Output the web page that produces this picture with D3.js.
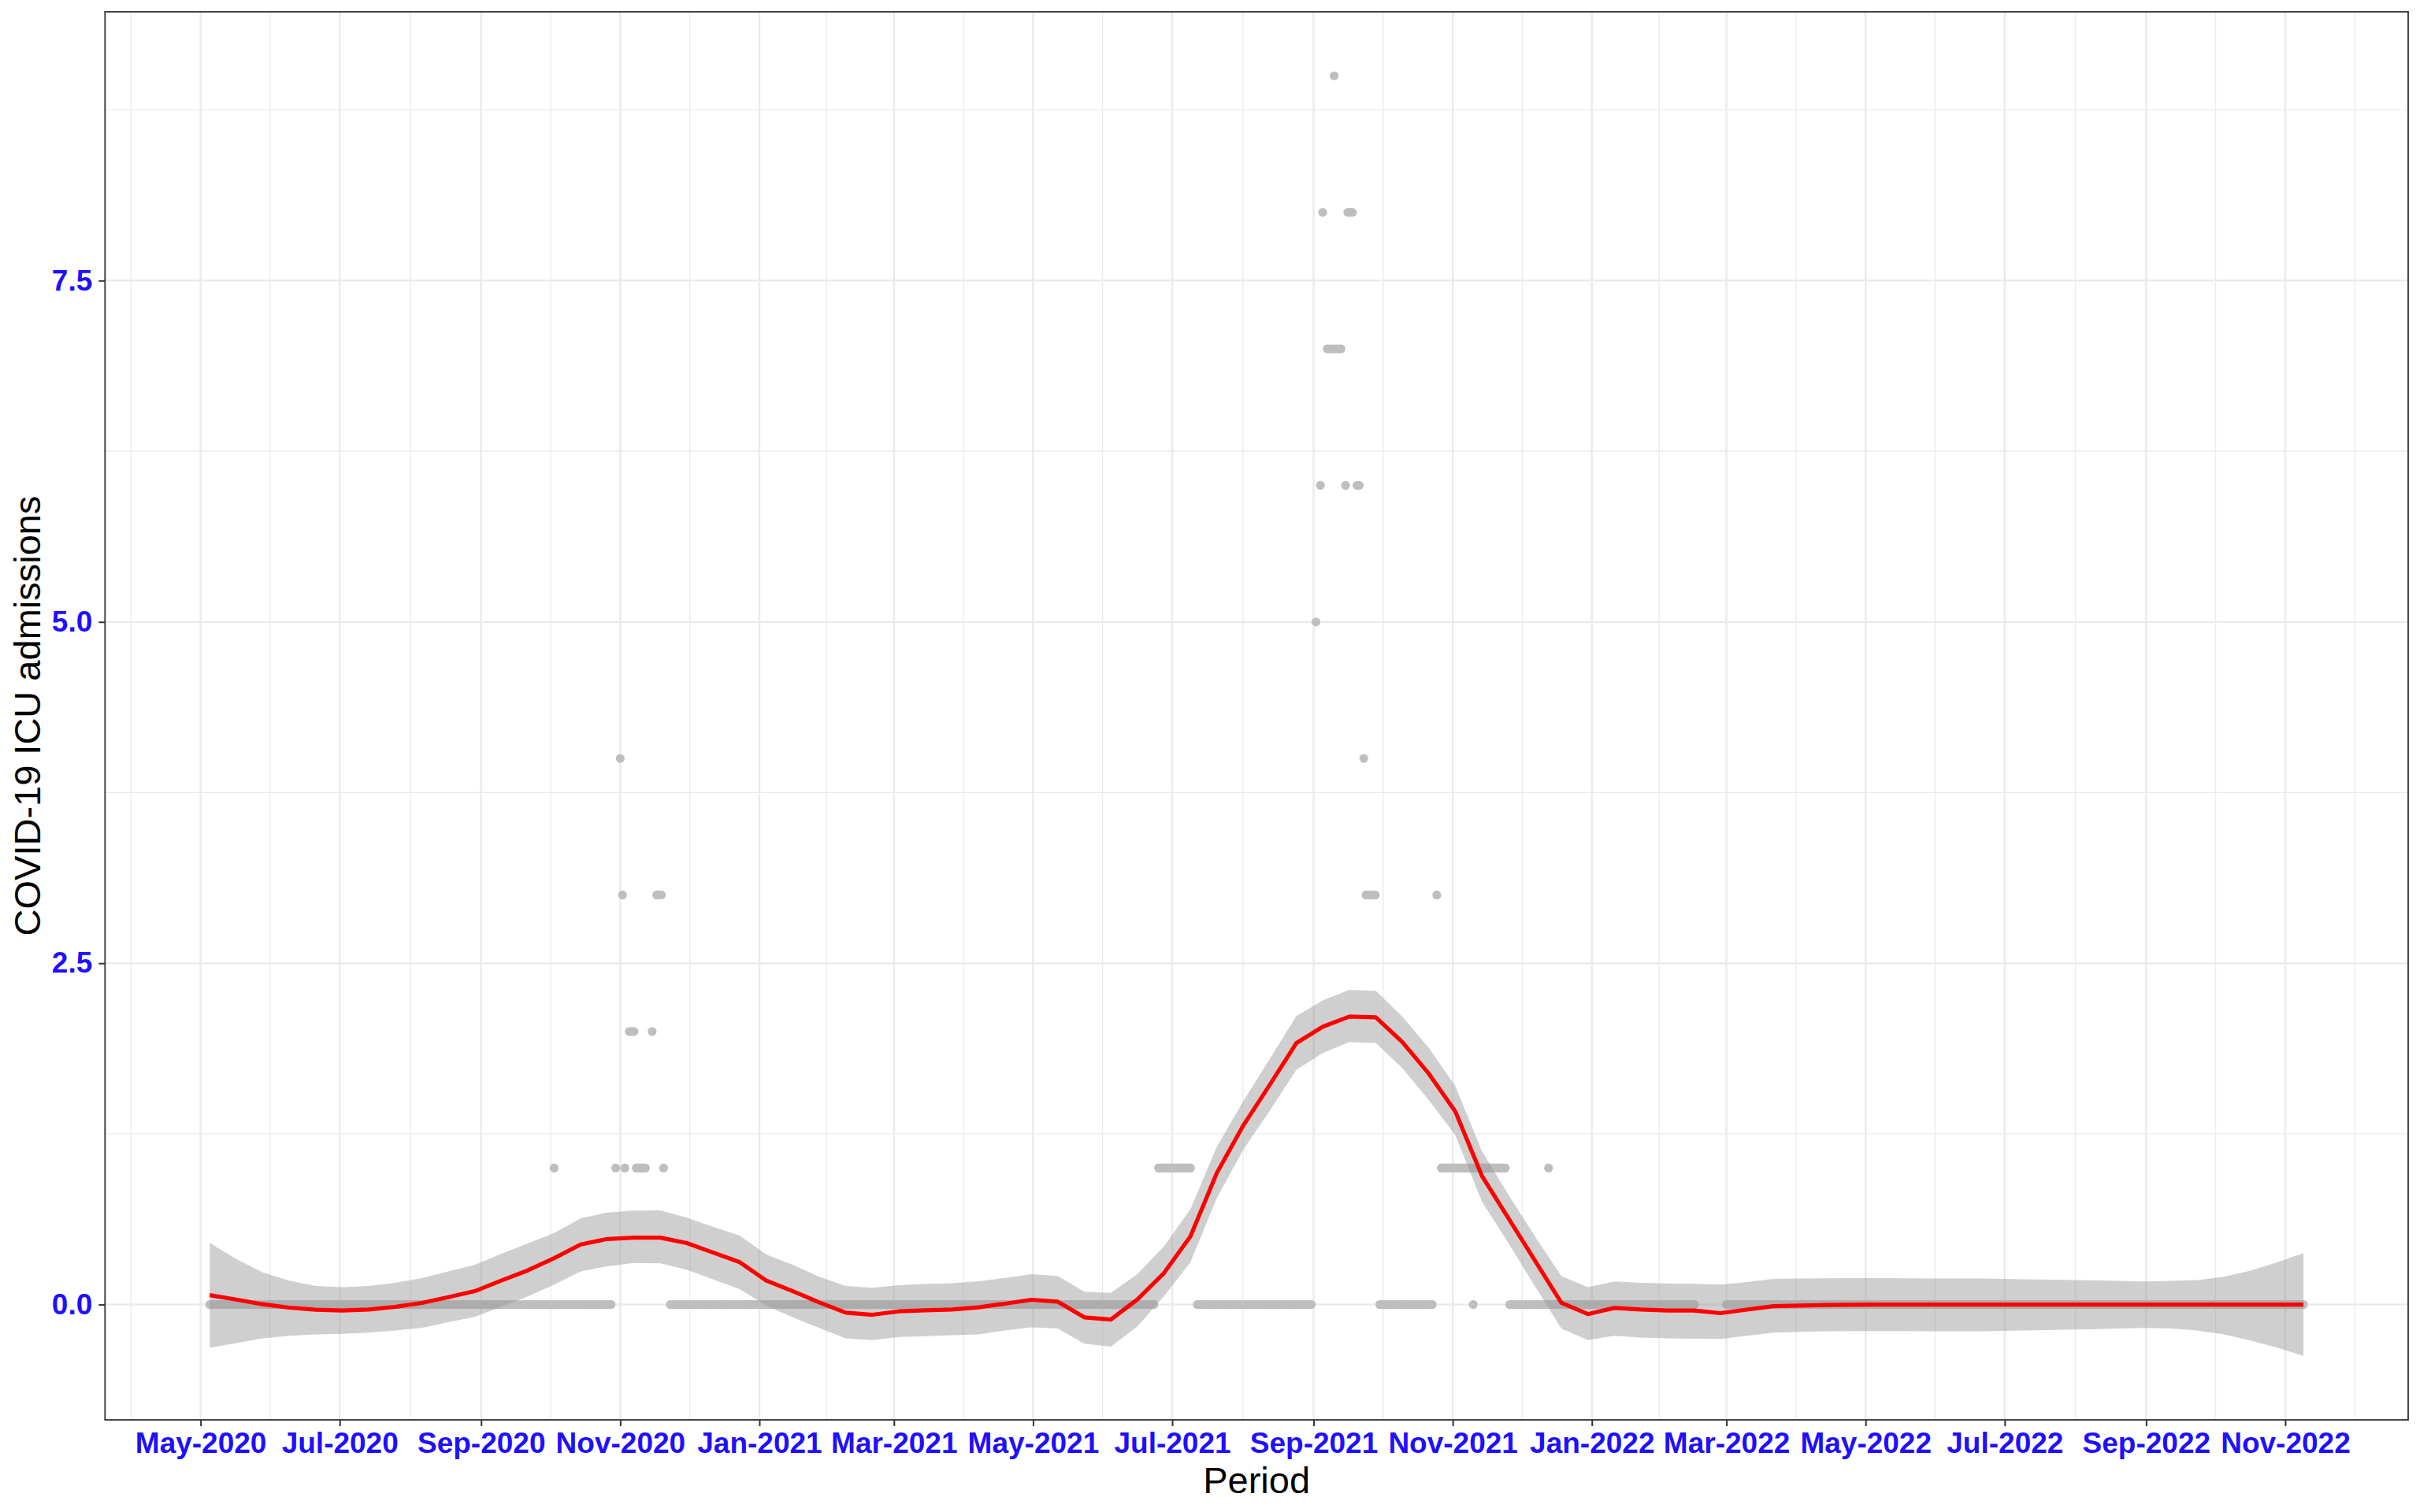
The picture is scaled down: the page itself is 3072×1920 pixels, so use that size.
<!DOCTYPE html>
<html><head><meta charset="utf-8">
<script src="https://cdn.jsdelivr.net/npm/d3@7"></script>
<style>body{margin:0;background:#fff} svg{display:block}</style>
</head><body>
<svg id="chart" width="3072" height="1920"></svg>
<script>
// ---------------- DATA ----------------
// observed daily points, given as runs of consecutive days with one value
const pointRuns = [
  ["2020-05-05","2020-10-28",0],
  ["2020-10-03","2020-10-03",1],
  ["2020-10-30","2020-10-30",1],
  ["2020-11-01","2020-11-01",4],
  ["2020-11-02","2020-11-02",3],
  ["2020-11-03","2020-11-03",1],
  ["2020-11-05","2020-11-07",2],
  ["2020-11-08","2020-11-12",1],
  ["2020-11-15","2020-11-15",2],
  ["2020-11-17","2020-11-19",3],
  ["2020-11-20","2020-11-20",1],
  ["2020-11-23","2021-06-23",0],
  ["2021-06-25","2021-07-09",1],
  ["2021-07-12","2021-08-31",0],
  ["2021-09-02","2021-09-02",5],
  ["2021-09-04","2021-09-04",6],
  ["2021-09-05","2021-09-05",8],
  ["2021-09-07","2021-09-13",7],
  ["2021-09-10","2021-09-10",9],
  ["2021-09-15","2021-09-15",6],
  ["2021-09-16","2021-09-18",8],
  ["2021-09-20","2021-09-21",6],
  ["2021-09-23","2021-09-23",4],
  ["2021-09-24","2021-09-28",3],
  ["2021-09-30","2021-10-23",0],
  ["2021-10-25","2021-10-25",3],
  ["2021-10-27","2021-11-24",1],
  ["2021-11-10","2021-11-10",0],
  ["2021-11-26","2022-02-15",0],
  ["2021-12-13","2021-12-13",1],
  ["2022-03-01","2022-11-09",0]
];

// smoothed fit (80 evenly spaced evaluation points over the data range)
const fitMean = [
  0.069, 0.036, 0.002,-0.023,-0.038,-0.044,-0.037,-0.017, 0.012, 0.054,
  0.098, 0.175, 0.250, 0.340, 0.440, 0.480, 0.490, 0.490, 0.450, 0.380,
  0.310, 0.175, 0.098, 0.015,-0.060,-0.075,-0.050,-0.042,-0.037,-0.021,
  0.006, 0.035, 0.021,-0.094,-0.110, 0.037, 0.229, 0.498, 0.963, 1.312,
  1.610, 1.915, 2.035, 2.109, 2.104, 1.922, 1.691, 1.414, 0.943, 0.632,
  0.322, 0.013,-0.070,-0.025,-0.037,-0.044,-0.044,-0.063,-0.037,-0.012,
 -0.008,-0.003,-0.002,-0.001,-0.001, 0.000, 0.000, 0.000, 0.000, 0.000,
  0.000, 0.000, 0.000, 0.000, 0.000, 0.000, 0.000, 0.000, 0.000, 0.000
];
const fitUpper = [
  0.452, 0.333, 0.236, 0.175, 0.136, 0.127, 0.136, 0.159, 0.194, 0.242,
  0.290, 0.371, 0.448, 0.524, 0.632, 0.674, 0.688, 0.690, 0.636, 0.569,
  0.505, 0.367, 0.290, 0.204, 0.136, 0.123, 0.142, 0.150, 0.156, 0.171,
  0.194, 0.223, 0.209, 0.094, 0.085, 0.223, 0.425, 0.697, 1.155, 1.490,
  1.800, 2.113, 2.228, 2.304, 2.297, 2.109, 1.879, 1.600, 1.124, 0.805,
  0.500, 0.208, 0.127, 0.169, 0.159, 0.154, 0.152, 0.146, 0.165, 0.188,
  0.190, 0.192, 0.194, 0.194, 0.192, 0.190, 0.190, 0.190, 0.186, 0.184,
  0.181, 0.177, 0.173, 0.169, 0.173, 0.179, 0.204, 0.248, 0.309, 0.377
];
const fitLower = [
 -0.315,-0.282,-0.248,-0.229,-0.219,-0.215,-0.206,-0.190,-0.171,-0.129,
 -0.090,-0.017, 0.060, 0.146, 0.242, 0.280, 0.304, 0.302, 0.256, 0.184,
  0.113,-0.008,-0.094,-0.171,-0.248,-0.261,-0.238,-0.232,-0.225,-0.219,
 -0.190,-0.167,-0.175,-0.286,-0.309,-0.161, 0.060, 0.309, 0.780, 1.135,
  1.420, 1.719, 1.843, 1.922, 1.915, 1.731, 1.497, 1.241, 0.755, 0.450,
  0.134,-0.175,-0.261,-0.229,-0.242,-0.248,-0.250,-0.252,-0.229,-0.206,
 -0.200,-0.196,-0.194,-0.194,-0.194,-0.196,-0.196,-0.196,-0.192,-0.188,
 -0.184,-0.181,-0.175,-0.171,-0.175,-0.190,-0.219,-0.263,-0.315,-0.376
];

const xTickDates = ["2020-05-01","2020-07-01","2020-09-01","2020-11-01","2021-01-01","2021-03-01",
  "2021-05-01","2021-07-01","2021-09-01","2021-11-01","2022-01-01","2022-03-01","2022-05-01",
  "2022-07-01","2022-09-01","2022-11-01"];
const xTickLabels = ["May-2020","Jul-2020","Sep-2020","Nov-2020","Jan-2021","Mar-2021","May-2021",
  "Jul-2021","Sep-2021","Nov-2021","Jan-2022","Mar-2022","May-2022","Jul-2022","Sep-2022","Nov-2022"];
const yTicks = [0, 2.5, 5, 7.5];
const yTickLabels = ["0.0","2.5","5.0","7.5"];
const xTitle = "Period";
const yTitle = "COVID-19 ICU admissions";

// ---------------- LAYOUT ----------------
const P = {left:133.3, right:3057, top:15, bottom:1803};
const parse = d3.utcParse("%Y-%m-%d");
const DAY = 864e5;

// points
const points = [];
pointRuns.forEach(([s,e,v]) => {
  d3.utcDay.range(parse(s), new Date(+parse(e) + DAY)).forEach(d => points.push({date:d, value:v}));
});
const xExt = d3.extent(points, d => +d.date);
const xPad = (xExt[1]-xExt[0])*0.05;
const x = d3.scaleUtc().domain([new Date(xExt[0]-xPad), new Date(xExt[1]+xPad)]).range([P.left, P.right]);

const fit = fitMean.map((m,i) => ({
  date: new Date(xExt[0] + i*(xExt[1]-xExt[0])/(fitMean.length-1)),
  mean:m, lo:fitLower[i], hi:fitUpper[i]
}));
const yMin = Math.min(d3.min(points,d=>d.value), d3.min(fitLower));
const yMax = Math.max(d3.max(points,d=>d.value), d3.max(fitUpper));
const yPad = (yMax-yMin)*0.05;
const y = d3.scaleLinear().domain([yMin-yPad, yMax+yPad]).range([P.bottom, P.top]);

const svg = d3.select("#chart");
const FONT = "'Liberation Sans', Arial, Helvetica, sans-serif";
const BLUE = "#1f0fff";

// grid
const grid = svg.append("g");
const majorX = xTickDates.map(parse);
const extX = [d3.utcMonth.offset(majorX[0],-2), ...majorX, d3.utcMonth.offset(majorX[majorX.length-1],2)];
const minorX = d3.pairs(extX).map(([a,b]) => new Date((+a + +b)/2))
  .filter(d => d >= x.domain()[0] && d <= x.domain()[1]);
const yStep = yTicks[1]-yTicks[0];
const minorY = [yTicks[0]-yStep, ...yTicks].map(v => v + yStep/2).filter(v => v>=y.domain()[0] && v<=y.domain()[1]);

grid.selectAll(".mnx").data(minorX).join("line")
  .attr("x1",d=>x(d)).attr("x2",d=>x(d)).attr("y1",P.top).attr("y2",P.bottom)
  .attr("stroke","#ebebeb").attr("stroke-width",1.3);
grid.selectAll(".mny").data(minorY).join("line")
  .attr("y1",d=>y(d)).attr("y2",d=>y(d)).attr("x1",P.left).attr("x2",P.right)
  .attr("stroke","#ebebeb").attr("stroke-width",1.3);
grid.selectAll(".mjx").data(majorX).join("line")
  .attr("x1",d=>x(d)).attr("x2",d=>x(d)).attr("y1",P.top).attr("y2",P.bottom)
  .attr("stroke","#ebebeb").attr("stroke-width",2.5);
grid.selectAll(".mjy").data(yTicks).join("line")
  .attr("y1",d=>y(d)).attr("y2",d=>y(d)).attr("x1",P.left).attr("x2",P.right)
  .attr("stroke","#ebebeb").attr("stroke-width",2.5);

// points
svg.append("g").selectAll("circle").data(points).join("circle")
  .attr("cx",d=>x(d.date)).attr("cy",d=>y(d.value)).attr("r",5.6)
  .attr("fill","#bebebe");

// ribbon
svg.append("path").datum(fit)
  .attr("d", d3.area().x(d=>x(d.date)).y0(d=>y(d.lo)).y1(d=>y(d.hi)))
  .attr("fill","#999999").attr("fill-opacity",0.47);

// line
svg.append("path").datum(fit)
  .attr("d", d3.line().x(d=>x(d.date)).y(d=>y(d.mean)))
  .attr("fill","none").attr("stroke","#ff0000").attr("stroke-width",5.2)
  .attr("stroke-linejoin","round");

// panel border
svg.append("rect").attr("x",P.left).attr("y",P.top)
  .attr("width",P.right-P.left).attr("height",P.bottom-P.top)
  .attr("fill","none").attr("stroke","#333333").attr("stroke-width",1.8);

// axes
const xAxis = d3.axisBottom(x).tickValues(majorX)
  .tickFormat((d,i)=>xTickLabels[i]).tickSize(8).tickPadding(8);
const gx = svg.append("g").attr("transform",`translate(0,${P.bottom})`).call(xAxis);
gx.select(".domain").remove();
gx.selectAll(".tick line").attr("stroke","#333333").attr("stroke-width",2);
gx.selectAll(".tick text").attr("fill",BLUE).attr("font-family",FONT)
  .attr("font-weight","bold").attr("font-size",37).attr("dy","0.71em");

const yAxis = d3.axisLeft(y).tickValues(yTicks)
  .tickFormat((d,i)=>yTickLabels[i]).tickSize(8).tickPadding(8);
const gy = svg.append("g").attr("transform",`translate(${P.left},0)`).call(yAxis);
gy.select(".domain").remove();
gy.selectAll(".tick line").attr("stroke","#333333").attr("stroke-width",2);
gy.selectAll(".tick text").attr("fill",BLUE).attr("font-family",FONT)
  .attr("font-weight","bold").attr("font-size",37);

// titles
svg.append("text").attr("x",(P.left+P.right)/2).attr("y",1896)
  .attr("text-anchor","middle").attr("font-family",FONT).attr("font-size",47)
  .attr("fill","#000").text(xTitle);
svg.append("text").attr("transform",`translate(51,${(P.top+P.bottom)/2}) rotate(-90)`)
  .attr("text-anchor","middle").attr("font-family",FONT).attr("font-size",47)
  .attr("fill","#000").text(yTitle);
</script>
</body></html>
